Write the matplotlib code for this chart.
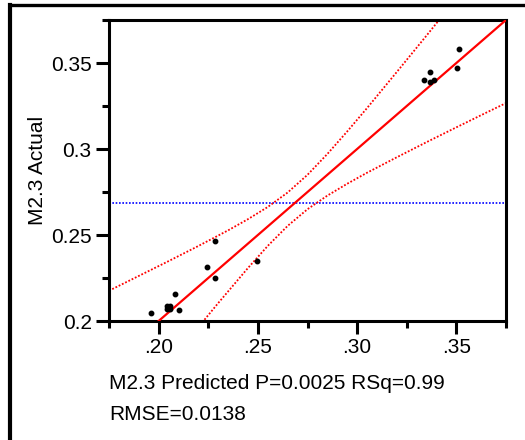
import matplotlib
matplotlib.use("Agg")
import matplotlib.pyplot as plt
from matplotlib.lines import Line2D

plt.rcParams['font.family'] = ['Liberation Sans', 'DejaVu Sans']

# predicted vs actual points
pred = [0.1962, 0.2042, 0.2058, 0.2042, 0.2058, 0.2050, 0.2082, 0.2103, 0.2242, 0.2283,
        0.2283, 0.2494, 0.3335, 0.3366, 0.3366, 0.3386, 0.3505, 0.3515]
actual = [0.2045, 0.2071, 0.2071, 0.2089, 0.2089, 0.2080, 0.2159, 0.2066, 0.2316, 0.2463,
          0.2248, 0.2351, 0.3403, 0.3449, 0.3391, 0.3403, 0.3471, 0.3583]

# fitted line and mean of response
fit_slope = 1.0
fit_icpt = 0.0
y_mean = 0.2684

# confidence curves (dotted red)
upper_x = [0.175, 0.190, 0.205, 0.220, 0.235, 0.245, 0.255, 0.265, 0.275, 0.285,
           0.295, 0.305, 0.320, 0.335, 0.345]
upper_y = [0.2176, 0.2262, 0.2348, 0.2436, 0.2527, 0.2592, 0.2663, 0.2747, 0.2850, 0.2971,
           0.3102, 0.3238, 0.3448, 0.3660, 0.3803]
lower_x = [0.215, 0.230, 0.245, 0.255, 0.265, 0.275, 0.285, 0.295, 0.305, 0.320,
           0.335, 0.350, 0.365, 0.375]
lower_y = [0.1894, 0.2104, 0.2308, 0.2437, 0.2553, 0.2650, 0.2729, 0.2798, 0.2862, 0.2952,
           0.3040, 0.3126, 0.3211, 0.3267]

xticks = [0.20, 0.25, 0.30, 0.35]
xlabels = ['.20', '.25', '.30', '.35']
yticks = [0.20, 0.25, 0.30, 0.35]
ylabels = ['0.2', '0.25', '0.3', '0.35']

fig = plt.figure(figsize=(5.25, 4.4), dpi=100)
ax = fig.add_axes([109/525, 1-321/440, 397/525, 301/440])

xlim = (0.175, 0.375)
ylim = (0.2, 0.375)

ax.axhline(y_mean, color='blue', lw=1.2, linestyle=(0, (1, 1)), zorder=1)
ax.plot(upper_x, upper_y, color='red', lw=1.3, linestyle=(0, (1, 1)), zorder=2)
ax.plot(lower_x, lower_y, color='red', lw=1.3, linestyle=(0, (1, 1)), zorder=2)
ax.plot(list(xlim), [fit_icpt + fit_slope*v for v in xlim], color='red', lw=1.6, zorder=3)
ax.plot(pred, actual, 'o', color='black', ms=3.2, mec='black', zorder=4)

ax.set_xlim(*xlim)
ax.set_ylim(*ylim)

ax.set_xticks(xticks)
ax.set_xticklabels(xlabels)
ax.set_yticks(yticks)
ax.set_yticklabels(ylabels)
ax.set_xticks([0.175, 0.225, 0.275, 0.325, 0.375], minor=True)
ax.set_yticks([0.225, 0.275, 0.325, 0.375], minor=True)
ax.tick_params(which='major', length=9.5, width=2.2, labelsize=15, direction='out', pad=3)
ax.tick_params(which='minor', length=5, width=2.2, direction='out')
for s in ax.spines.values():
    s.set_linewidth(2.2)

ax.set_ylabel('M2.3 Actual', fontsize=15, labelpad=3)

fig.text(109/525, 1-389/440, 'M2.3 Predicted P=0.0025 RSq=0.99', fontsize=15, va='baseline')
fig.text(109/525, 1-420/440, 'RMSE=0.0138', fontsize=15, va='baseline')

# outer frame (top and left edges only)
fig.add_artist(Line2D([9.5/525, 1.0], [1-5/440, 1-5/440], transform=fig.transFigure,
                      color='black', lw=2.4, solid_capstyle='projecting'))
fig.add_artist(Line2D([9.5/525, 9.5/525], [0, 1-5/440], transform=fig.transFigure,
                      color='black', lw=3.0, solid_capstyle='projecting'))

fig.savefig('out.png', dpi=100)
